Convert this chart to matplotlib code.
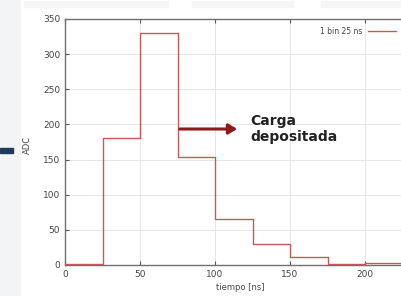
import matplotlib
matplotlib.use("Agg")
import matplotlib.pyplot as plt
import numpy as np

bin_edges = [0, 25, 50, 75, 100, 125, 150, 175, 200, 225, 250]
counts = [1, 180, 330, 153, 66, 30, 12, 2, 3, 3]
x_ticks = [0, 50, 100, 150, 200]
y_ticks = [0, 50, 100, 150, 200, 250, 300, 350]
legend_label = "1 bin 25 ns"
annotation = "Carga\ndepositada"

fig = plt.figure(figsize=(4.01, 2.96), dpi=100)
fig.patch.set_facecolor("white")

# faint slide decorations
fig.patches.append(plt.Rectangle((0.0, 0.0), 0.05, 1.0, transform=fig.transFigure,
                                 color="#f3f4f6", zorder=0))
fig.patches.append(plt.Rectangle((0.0, 0.483), 0.033, 0.018, transform=fig.transFigure,
                                 color="#1f3a5a", zorder=1))
for x0, w in [(0.06, 0.36), (0.48, 0.25), (0.8, 0.2)]:
    fig.patches.append(plt.Rectangle((x0, 0.975), w, 0.02, transform=fig.transFigure,
                                     color="#f5f5f5", zorder=0))

ax = fig.add_axes([65 / 401, 31 / 296, 375 / 401, 246 / 296])
ax.set_facecolor("white")

xs = np.array(bin_edges)
ys = np.array(counts + [counts[-1]])
ax.step(xs, ys, where="post", color="#c85858", lw=1.0, label=legend_label, zorder=3)

ax.set_xlim(0, 250)
ax.set_ylim(0, 350)
ax.set_xticks(x_ticks)
ax.set_yticks(y_ticks)
ax.grid(True, color="#e6e6e6", lw=0.7)
ax.tick_params(direction="in", length=3, labelsize=6.5, colors="#555555",
               labelcolor="#444444", top=True, right=False)
for s in ["left", "bottom", "top"]:
    ax.spines[s].set_color("#707070")
    ax.spines[s].set_linewidth(1.0)
ax.spines["right"].set_visible(False)

ax.set_xlabel("tiempo [ns]", fontsize=6, color="#444444", labelpad=2)
ax.xaxis.set_label_coords((240 - 65) / 375, -0.075)
ax.set_ylabel("ADC", fontsize=6, color="#444444")
ax.yaxis.set_label_coords(-(65 - 32) / 375, (265 - 145) / 246)

# legend-like entry
fig.text(362 / 401, 1 - 31 / 296, legend_label, fontsize=5.5, color="#444444",
         ha="right", va="center")
fig.add_artist(plt.Line2D([368 / 401, 396 / 401], [1 - 31 / 296, 1 - 31 / 296],
                          transform=fig.transFigure, color="#c85858", lw=1.0))

# annotation arrow
fig.add_artist(matplotlib.patches.FancyArrowPatch(
    (177 / 401, 1 - 129 / 296), (240 / 401, 1 - 129 / 296),
    transform=fig.transFigure, arrowstyle="-|>,head_length=5,head_width=3",
    color="#8b1a1a", lw=2.2))
fig.text(250 / 401, 1 - 129 / 296, annotation, fontsize=10, fontweight="bold",
         color="#222222", ha="left", va="center", linespacing=1.25)

fig.savefig("out.png", dpi=100, facecolor="white")
